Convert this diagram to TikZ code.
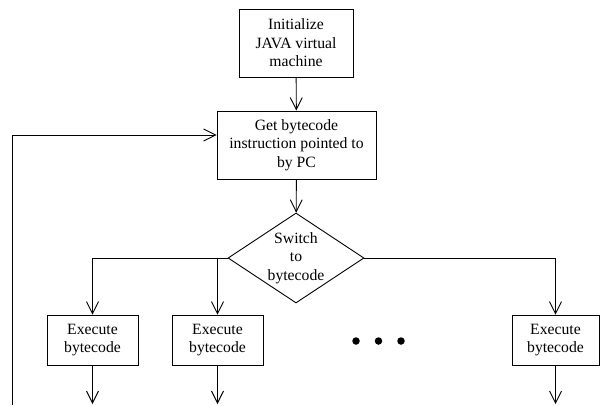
\documentclass[tikz,border=0pt]{standalone}
\usepackage{fontspec}
\setmainfont{Liberation Serif}
\usetikzlibrary{arrows.meta,shapes.geometric}
\begin{document}
\begin{tikzpicture}[x=1pt,y=-1pt,
  line width=0.9pt,
  font=\fontsize{15.7}{18.5}\selectfont,
  procbox/.style={draw, rectangle, align=center, inner sep=0pt},
  decision/.style={draw, diamond, inner sep=0pt, minimum width=136pt,
    minimum height=90pt, aspect=1.51},
  plain/.style={align=center, inner sep=0pt},
  arr/.style={-{Straight Barb[length=12pt,width=12pt]}},
  dot/.style={circle, fill, inner sep=0pt, minimum size=7.5pt}]
  \useasboundingbox (0,0) rectangle (600,405);

  % main sequence
  \node[procbox, minimum width=114pt, minimum height=68pt] (init) at (296,43)
    {Initialize\\JAVA virtual\\machine};
  \node[procbox, minimum width=159pt, minimum height=68pt] (get) at (296.5,145)
    {Get bytecode\\instruction pointed to\\by PC};
  \node[decision] (sw) at (296,258) {};
  \node[plain] (swtext) at (296,258) {Switch\\to\\bytecode};

  % handlers
  \node[procbox, minimum width=91pt, minimum height=50pt] (ex1) at (92.5,340)
    {Execute\\bytecode};
  \node[procbox, minimum width=91pt, minimum height=50pt] (ex2) at (217.5,340)
    {Execute\\bytecode};
  \node[procbox, minimum width=87pt, minimum height=50pt] (ex3) at (555.5,340)
    {Execute\\bytecode};

  % ellipsis between handlers
  \node[dot] (d1) at (356,341) {};
  \node[dot] (d2) at (378.5,341) {};
  \node[dot] (d3) at (401,341) {};

  % helper points
  \coordinate (j2) at (ex2.north |- sw.west);
  \coordinate (o1) at (ex1.south |- 0,404);
  \coordinate (o2) at (ex2.south |- 0,404);
  \coordinate (o3) at (ex3.south |- 0,404);
  \coordinate (loop) at (12.5,405);

  % connectors
  \draw[arr] (init) -- (get);
  \draw[arr] (get) -- (sw);
  \draw[arr] (sw.west) -| (ex1.north);
  \draw[arr] (j2) -- (ex2.north);
  \draw[arr] (sw.east) -| (ex3.north);
  \draw[arr] (ex1) -- (o1);
  \draw[arr] (ex2) -- (o2);
  \draw[arr] (ex3) -- (o3);
  \draw[arr] (loop) |- ([yshift=10pt]get.west);
\end{tikzpicture}
\end{document}
